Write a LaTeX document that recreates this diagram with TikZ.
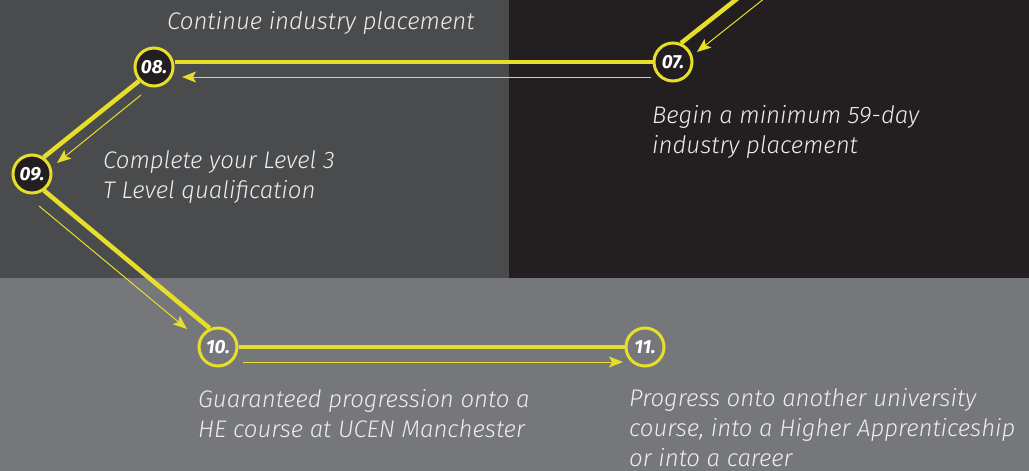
\documentclass[tikz,border=0pt]{standalone}
\usepackage{fontspec}
\setmainfont{Fira Sans}[ItalicFont={Fira Sans Light Italic}, BoldItalicFont={Fira Sans Bold Italic}]
\usepackage{xcolor}
\usetikzlibrary{arrows.meta, positioning}
\definecolor{pathyellow}{HTML}{E6DE2A}
\definecolor{panelleft}{HTML}{4A4B4D}
\definecolor{panelright}{HTML}{231F20}
\definecolor{panellow}{HTML}{76777B}
\definecolor{captiontext}{HTML}{EDEDED}

\begin{document}
\begin{tikzpicture}[x=1pt, y=-1pt,
    stepdot/.style={circle, draw=pathyellow, line width=3pt, fill=panelright, minimum size=38pt, inner sep=0pt,
        text=white, font=\fontsize{19}{19}\selectfont\bfseries\itshape},
    stepdotlow/.style={stepdot, fill=panellow},
    route/.style={draw=pathyellow, line width=4.5pt},
    flow/.style={draw=pathyellow, line width=1pt, -{Stealth[length=14pt, width=11pt, inset=3pt]}},
    caption/.style={anchor=base west, align=left, text=captiontext, inner sep=0pt,
        font=\fontsize{24}{30}\selectfont\itshape}]

    % Background panels
    \useasboundingbox (0,0) rectangle (1029,471);
    \clip (0,0) rectangle (1029,471);
    \fill[panelleft] (0,0) rectangle (509,278);
    \fill[panelright] (509,0) rectangle (1029,278);
    \fill[panellow] (0,278) rectangle (1029,471);

    % Steps
    \node[stepdot] (s07) at (673,62) {07.};
    \node[stepdot] (s08) at (154,67) {08.};
    \node[stepdot] (s09) at (32,174) {09.};
    \node[stepdotlow] (s10) at (218,347) {10.};
    \node[stepdotlow] (s11) at (645,347) {11.};

    % Route
    \coordinate (in07) at (762,-21);
    \draw[route] (s07.67) -- (in07);
    \draw[route] (s07.west) -- (s07.west -| s08.east);
    \draw[route] (s08.223) -- (s09.55);
    \draw[route] (s09.-54) -- (s10.114);
    \draw[route] (s10) -- (s11);

    % Direction arrows
    \coordinate (f07a) at (775,-10);  \coordinate (f07b) at (697,52);
    \coordinate (f08a) at (651,77);   \coordinate (f08b) at (182,77);
    \coordinate (f09a) at (141,95);   \coordinate (f09b) at (57,163);
    \coordinate (f10a) at (39,206);   \coordinate (f10b) at (187,329);
    \coordinate (f11a) at (243,362);  \coordinate (f11b) at (623,362);
    \draw[flow] (f07a) -- (f07b);
    \draw[flow] (f08a) -- (f08b);
    \draw[flow] (f09a) -- (f09b);
    \draw[flow] (f10a) -- (f10b);
    \draw[flow] (f11a) -- (f11b);

    % Labels (base = last line)
    \node[caption] (t08) at (167,29) {Continue industry placement};
    \node[caption] (t09) at (103,198) {Complete your Level 3\\T Level qualification};
    \node[caption] (t07) at (652,153) {Begin a minimum 59-day\\industry placement};
    \node[caption] (t10) at (198,437) {Guaranteed progression onto a\\HE course at UCEN Manchester};
    \node[caption] (t11) at (629,466) {Progress onto another university\\course, into a Higher Apprenticeship\\or into a career};
\end{tikzpicture}
\end{document}
